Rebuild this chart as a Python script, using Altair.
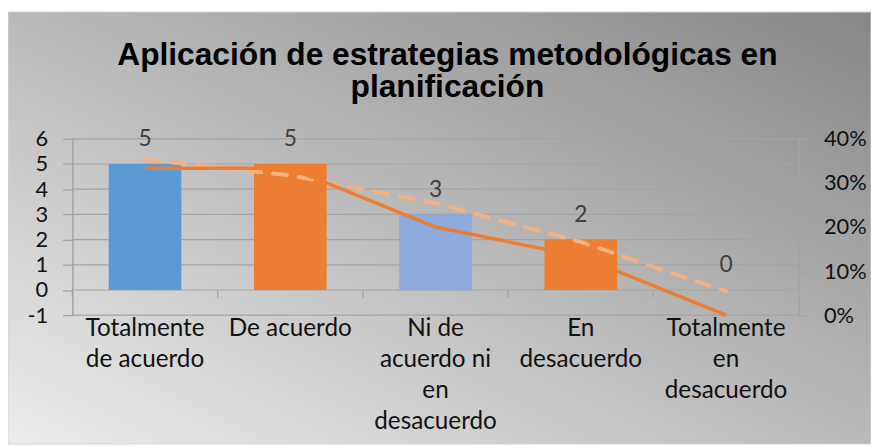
import altair as alt
import pandas as pd

categories = ["Totalmente de acuerdo", "De acuerdo", "Ni de acuerdo ni en desacuerdo",
              "En desacuerdo", "Totalmente en desacuerdo"]
label_lines = [["Totalmente", "de acuerdo"], ["De acuerdo"], ["Ni de", "acuerdo ni", "en", "desacuerdo"],
               ["En", "desacuerdo"], ["Totalmente", "en", "desacuerdo"]]
counts = [5, 5, 3, 2, 0]
percents = [0.3333, 0.3333, 0.2000, 0.1333, 0.0]
trend = [0.353, 0.317, 0.254, 0.166, 0.054]
bar_colors = ["#5B9BD5", "#ED7D31", "#8FAADC", "#ED7D31", "#ED7D31"]
left_ticks = [-1, 0, 1, 2, 3, 4, 5, 6]
right_ticks = [0.0, 0.1, 0.2, 0.3, 0.4]
title_lines = ["Aplicación de estrategias metodológicas en", "planificación"]

df = pd.DataFrame({"cat": categories, "count": counts, "pct": percents,
                   "trend": trend, "color": bar_colors})
grid_df = pd.DataFrame({"v": left_ticks})

W, H = 733, 178
PL, PT, PR, PB = 65, 130, 73, 130
FONT = "Lato"
GRID = "#a3a3a3"
STEP = W / len(categories)

label_map = "{" + ", ".join(
    "'" + c + "': [" + ", ".join("'" + s + "'" for s in lines) + "]"
    for c, lines in zip(categories, label_lines)) + "}"

xscale = alt.Scale(domain=categories, paddingInner=0.5, paddingOuter=0.25)

one = pd.DataFrame({"k": [0]})
bg = alt.Chart(one).mark_rect(
    fill=alt.Gradient(gradient="linear",
                      stops=[alt.GradientStop(color="#ececec", offset=0),
                             alt.GradientStop(color="#878787", offset=1)],
                      x1=0, y1=1, x2=1, y2=0),
    stroke="#d4d4d4", strokeWidth=1
).encode(x=alt.value(-PL), x2=alt.value(W + PR), y=alt.value(-PT + 2), y2=alt.value(H + PB))

title = alt.Chart(one).mark_text(
    text=title_lines, font="Liberation Sans", fontSize=32, fontWeight="bold",
    color="#000000", align="center", baseline="alphabetic", lineHeight=33
).encode(x=alt.value(W / 2 + 12), y=alt.value(-75))

yleft = alt.Scale(domain=[-1, 6], nice=False, zero=False)
yright = alt.Scale(domain=[0, 0.4], nice=False)

left_axis = alt.Axis(title=None, values=left_ticks, grid=False,
                     labelExpr="'' + datum.value", labelOverlap=False,
                     domainColor=GRID, domainWidth=1.5,
                     tickColor=GRID, tickSize=10, tickWidth=1.2,
                     labelFont=FONT, labelFontSize=22, labelColor="#111111",
                     labelPadding=15, zindex=1)

xaxis = alt.Axis(title=None, labelExpr=label_map + "[datum.label]", labelAngle=0,
                 labelFont=FONT, labelFontSize=24.5, labelColor="#111111", labelLineHeight=31,
                 labelBaseline="top", labelPadding=2, ticks=False, domain=False, grid=False,
                 labelLimit=300, zindex=1)

gridlines = alt.Chart(grid_df).mark_rule(color=GRID, strokeWidth=1.2).encode(
    y=alt.Y("v:Q", scale=yleft, axis=left_axis),
)

bars = alt.Chart(df).mark_bar().encode(
    x=alt.X("cat:N", scale=xscale, axis=xaxis, sort=categories),
    y=alt.Y("count:Q", scale=yleft, axis=left_axis),
    y2=alt.datum(0),
    color=alt.Color("color:N", scale=None),
)

texts = alt.Chart(df).mark_text(dy=-25, font=FONT, fontSize=23, color="#404040",
                                baseline="middle").encode(
    x=alt.X("cat:N", scale=xscale, sort=categories),
    y=alt.Y("count:Q", scale=yleft, axis=left_axis),
    text=alt.Text("count:Q"),
)

cat_ticks = alt.Chart(df).mark_tick(orient="vertical", size=8, thickness=1.3, color=GRID,
                                    xOffset=-0.25 * STEP, yOffset=4, opacity=1).encode(
    x=alt.X("cat:N", scale=xscale, sort=categories, bandPosition=0),
    y=alt.Y(datum=0, scale=yleft, axis=left_axis),
)

left = alt.layer(gridlines, bars, texts, cat_ticks)

line = alt.Chart(df).mark_line(color="#ED7D31", strokeWidth=3.5).encode(
    x=alt.X("cat:N", scale=xscale, sort=categories),
    y=alt.Y("pct:Q", scale=yright,
            axis=alt.Axis(title=None, orient="right", values=right_ticks, format=".0%",
                          grid=False, domainColor=GRID, domainWidth=1.5,
                          tickColor=GRID, tickSize=9, tickWidth=1.2,
                          labelFont=FONT, labelFontSize=22, labelColor="#111111",
                          labelPadding=16, zindex=1)),
)

trendline = alt.Chart(df).mark_line(color="#F4B183", strokeWidth=4, strokeDash=[14, 12],
                                    strokeCap="round").encode(
    x=alt.X("cat:N", scale=xscale, sort=categories),
    y=alt.Y("trend:Q", scale=yright),
)

right = alt.layer(trendline, line)

chart = alt.layer(bg, title, left, right).resolve_scale(y="independent").properties(
    width=W, height=H,
    padding={"left": PL, "top": PT, "right": PR, "bottom": PB},
    autosize=alt.AutoSizeParams(type="none"),
).configure_view(stroke=None).configure_axis(labelOverlap=False).configure(background="white")

chart.save("out.html", embed_options={"renderer": "svg", "actions": False})
